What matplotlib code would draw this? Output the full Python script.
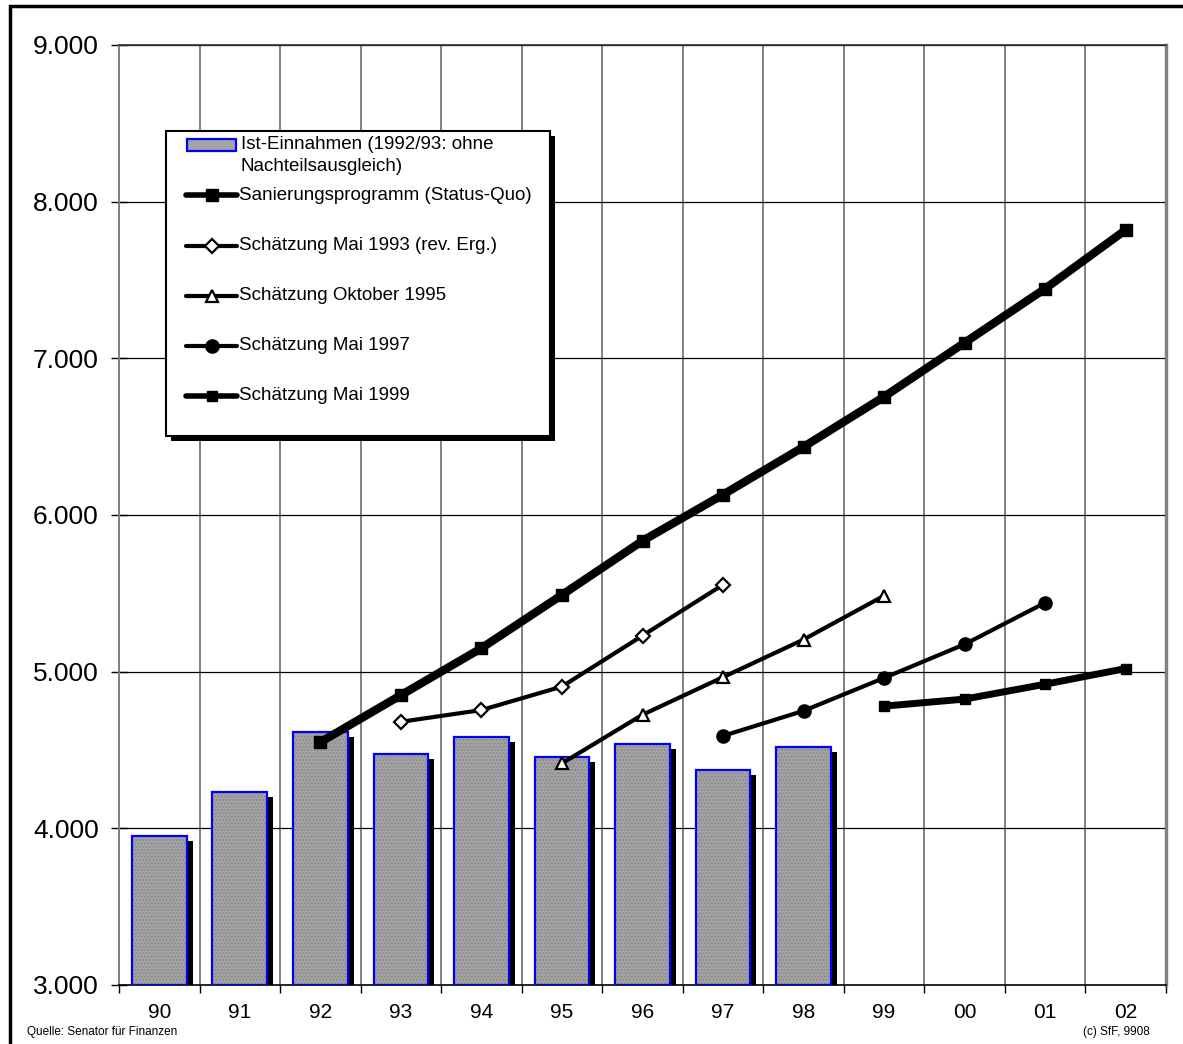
import numpy as np
import matplotlib
matplotlib.use("Agg")
import matplotlib.pyplot as plt
from matplotlib.patches import Rectangle
from matplotlib.transforms import offset_copy

plt.rcParams['font.family'] = ['Liberation Sans', 'DejaVu Sans']

nan = np.nan

years = ['90', '91', '92', '93', '94', '95', '96', '97', '98', '99', '00', '01', '02']
y_ticks = [3000, 4000, 5000, 6000, 7000, 8000, 9000]
y_tick_labels = ['3.000', '4.000', '5.000', '6.000', '7.000', '8.000', '9.000']

# Ist-Einnahmen 1990-1998
ist = [3950, 4230, 4615, 4475, 4583, 4455, 4540, 4372, 4520]

sanierung = [nan, nan, 4550, 4850, 5150, 5490, 5835, 6130, 6435, 6755, 7100, 7445, 7820]
mai_1993 = [nan, nan, nan, 4680, 4755, 4905, 5230, 5555, nan, nan, nan, nan, nan]
okt_1995 = [nan, nan, nan, nan, nan, 4415, 4725, 4965, 5205, 5485, nan, nan, nan]
mai_1997 = [nan, nan, nan, nan, nan, nan, nan, 4590, 4750, 4960, 5175, 5440, nan]
mai_1999 = [nan, nan, nan, nan, nan, nan, nan, nan, nan, 4780, 4825, 4920, 5020]

bar_label = 'Ist-Einnahmen (1992/93: ohne\nNachteilsausgleich)'
series = [
    ('Sanierungsprogramm (Status-Quo)', sanierung,
     dict(lw=6, marker='s', ms=9, mfc='black', mec='black')),
    ('Schätzung Mai 1993 (rev. Erg.)', mai_1993,
     dict(lw=3, marker='D', ms=7, mfc='white', mec='black', mew=1.6)),
    ('Schätzung Oktober 1995', okt_1995,
     dict(lw=3, marker='^', ms=9, mfc='white', mec='black', mew=1.6)),
    ('Schätzung Mai 1997', mai_1997,
     dict(lw=3, marker='o', ms=9.5, mfc='black', mec='black')),
    ('Schätzung Mai 1999', mai_1999,
     dict(lw=5, marker='s', ms=7, mfc='black', mec='black')),
]

W, H = 1183, 1044
fig = plt.figure(figsize=(W / 100, H / 100), dpi=100)
ax = fig.add_axes([119 / W, 59 / H, 1047 / W, 940 / H])

x = np.arange(len(years))
xb = np.arange(len(ist))
bw = 0.68

# bars: black drop shadow, gray stipple fill, blue outline
shadow_tr = offset_copy(ax.transData, fig=fig, x=6, y=-5, units='dots')
ax.bar(xb, np.array(ist) - 3000, bw, bottom=3000, color='black', lw=0,
       transform=shadow_tr, zorder=2)
ax.bar(xb, np.array(ist) - 3000, bw, bottom=3000, color='#a4a4a4', lw=0, zorder=3)
ax.bar(xb, np.array(ist) - 3000, bw, bottom=3000, fill=False, hatch='.....',
       edgecolor='#8a8a8a', lw=0, zorder=3)
ax.bar(xb, np.array(ist) - 3000, bw, bottom=3000, fill=False,
       edgecolor='#0000ff', lw=1.6, zorder=4)

for label, vals, st in series:
    ax.plot(x, vals, color='black', zorder=5, **st)

ax.set_xlim(-0.5, len(years) - 0.5)
ax.set_ylim(3000, 9000)
ax.set_yticks(y_ticks)
ax.set_yticklabels(y_tick_labels, fontsize=19)
ax.set_xticks(x)
ax.set_xticklabels(years, fontsize=15)
ax.set_xticks(np.arange(-0.5, len(years)), minor=True)
ax.tick_params(axis='x', which='major', length=0, pad=13)
ax.tick_params(axis='x', which='minor', length=6, width=1, direction='out', color='black')
ax.tick_params(axis='y', length=11, width=1, direction='inout', pad=9, color='black')

# grid
for xv in np.arange(-0.5, len(years)):
    ax.axvline(xv, color='#808080', lw=1.4, zorder=1)
for yv in y_ticks[1:]:
    ax.axhline(yv, color='black', lw=0.9, zorder=1)

ax.spines['left'].set_color('#808080')
ax.spines['left'].set_linewidth(1.4)
ax.spines['right'].set_color('#808080')
ax.spines['right'].set_linewidth(2.5)
ax.spines['top'].set_color('#303030')
ax.spines['top'].set_linewidth(1.2)
ax.spines['bottom'].set_linewidth(1.2)

# legend box with black shadow
lax = fig.add_axes([166 / W, 1 - (131 + 305) / H, 384 / W, 305 / H], zorder=10)
lax.set_xlim(0, 384)
lax.set_ylim(305, 0)
lax.axis('off')
lax.add_patch(Rectangle((5, 5), 384, 305, facecolor='black', lw=0, clip_on=False, zorder=0))
lax.add_patch(Rectangle((0, 0), 384, 305, facecolor='white', edgecolor='black',
                        lw=1.5, clip_on=False, zorder=1))
lax.add_patch(Rectangle((21, 8), 49, 12, facecolor='#a4a4a4', edgecolor='#0000ff',
                        lw=1.6, zorder=2))
lax.text(75, 5, bar_label, fontsize=13.5, va='top', ha='left', linespacing=1.4, zorder=3)
row_y = [64, 115, 165, 215, 265]
for (label, vals, st), ry in zip(series, row_y):
    lax.plot([20, 71], [ry, ry], color='black', solid_capstyle='round', zorder=2,
             lw=min(st['lw'], 4))
    lax.plot([45.5], [ry], color='black', zorder=3, ls='none',
             **{k: v for k, v in st.items() if k != 'lw'})
    lax.text(73, ry, label, fontsize=13.5, va='center', ha='left', zorder=3)

# outer frame and footnotes
fig.patches.append(Rectangle((9.5 / W, -0.05), 1.2, 1.05 - 6 / H,
                             transform=fig.transFigure, fill=False,
                             edgecolor='black', lw=2.5))
fig.text(27 / W, 1 - 1032 / H, 'Quelle: Senator für Finanzen', fontsize=8.5,
         va='center', ha='left')
fig.text(1150 / W, 1 - 1032 / H, '(c) SfF, 9908', fontsize=8.5, va='center', ha='right')

fig.savefig('out.png', dpi=100)
